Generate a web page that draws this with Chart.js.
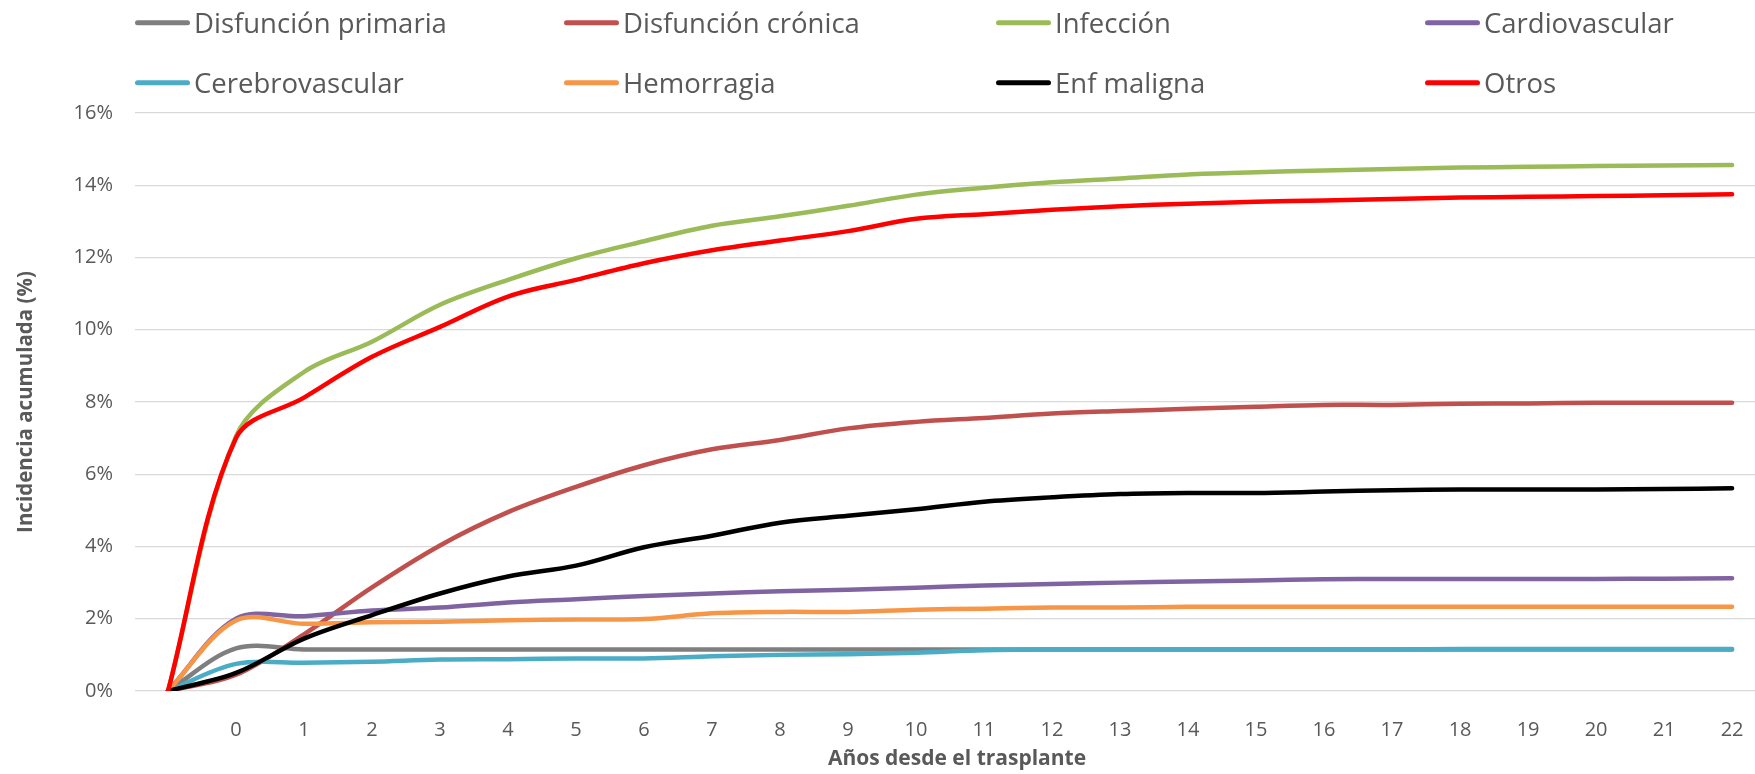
<!DOCTYPE html>
<html>
<head>
<meta charset="utf-8">
<script src="https://cdn.jsdelivr.net/npm/chart.js@4.4.1/dist/chart.umd.min.js"></script>
<style>
  html, body { margin: 0; padding: 0; background: #ffffff; overflow: hidden; }
  #wrap { width: 1755px; height: 774px; position: relative; overflow: hidden; }
  #c { position: absolute; left: 0; top: 0; }
</style>
</head>
<body>
<div id="wrap"><canvas id="c" width="1779" height="774"></canvas></div>
<script>
// ---- Data (index 0 = origin point without label, then years 0..22) ----
const xLabels = ['', '0', '1', '2', '3', '4', '5', '6', '7', '8', '9', '10', '11',
  '12', '13', '14', '15', '16', '17', '18', '19', '20', '21', '22'];

const seriesNames = ['Disfunción primaria', 'Disfunción crónica', 'Infección', 'Cardiovascular',
  'Cerebrovascular', 'Hemorragia', 'Enf maligna', 'Otros'];

const disfuncionPrimaria = [0, 1.18, 1.15, 1.15, 1.15, 1.15, 1.15, 1.15, 1.15, 1.15, 1.15, 1.15,
  1.15, 1.15, 1.15, 1.15, 1.15, 1.15, 1.15, 1.15, 1.15, 1.15, 1.15, 1.15];
const disfuncionCronica = [0, 0.45, 1.57, 2.87, 4.03, 4.95, 5.65, 6.25, 6.69, 6.95, 7.27, 7.45,
  7.56, 7.68, 7.75, 7.81, 7.87, 7.92, 7.92, 7.95, 7.96, 7.98, 7.98, 7.98];
const infeccion = [0, 7.05, 8.83, 9.67, 10.69, 11.38, 11.98, 12.45, 12.88, 13.14, 13.43, 13.74,
  13.93, 14.08, 14.19, 14.30, 14.36, 14.41, 14.45, 14.49, 14.51, 14.53, 14.55, 14.56];
const cardiovascular = [0, 2.00, 2.07, 2.23, 2.31, 2.45, 2.54, 2.63, 2.70, 2.76, 2.80, 2.86,
  2.92, 2.96, 3.00, 3.03, 3.06, 3.09, 3.10, 3.10, 3.10, 3.10, 3.11, 3.12];
const cerebrovascular = [0, 0.75, 0.78, 0.81, 0.87, 0.88, 0.90, 0.90, 0.96, 1.00, 1.02, 1.06,
  1.13, 1.15, 1.15, 1.15, 1.15, 1.15, 1.15, 1.16, 1.16, 1.16, 1.16, 1.16];
const hemorragia = [0, 1.95, 1.86, 1.90, 1.92, 1.96, 1.98, 1.99, 2.15, 2.19, 2.19, 2.25,
  2.28, 2.31, 2.31, 2.33, 2.33, 2.33, 2.33, 2.33, 2.33, 2.33, 2.33, 2.33];
const enfMaligna = [0, 0.50, 1.45, 2.10, 2.70, 3.17, 3.47, 3.98, 4.30, 4.66, 4.85, 5.03,
  5.24, 5.36, 5.45, 5.48, 5.48, 5.52, 5.56, 5.58, 5.58, 5.58, 5.59, 5.61];
const otros = [0, 7.00, 8.12, 9.25, 10.08, 10.92, 11.38, 11.84, 12.20, 12.47, 12.73, 13.07,
  13.20, 13.32, 13.42, 13.49, 13.54, 13.58, 13.62, 13.66, 13.68, 13.70, 13.72, 13.75];

const seriesValues = [disfuncionPrimaria, disfuncionCronica, infeccion, cardiovascular,
  cerebrovascular, hemorragia, enfMaligna, otros];
const seriesColors = ['#7F7F7F', '#C0504D', '#9BBB59', '#8064A2', '#4BACC6', '#F79646', '#000000', '#FF0000'];

const yMin = 0, yMax = 16, yStep = 2;

// ---- Styling / layout ----
const TEXT_COLOR = '#595959';
const FONT = '"Open Sans", "DejaVu Sans", sans-serif';

const datasets = seriesValues.map((vals, i) => ({
  label: seriesNames[i],
  data: vals.map((v, k) => ({ x: k, y: v })),
  borderColor: seriesColors[i],
  backgroundColor: seriesColors[i],
  borderWidth: 4.5,
  borderCapStyle: 'round',
  borderJoinStyle: 'round',
  pointRadius: 0,
  pointHoverRadius: 0,
  tension: 0.34,
  fill: false,
  order: seriesValues.length - 1 - i   // later series drawn on top, as in the original
}));

const LEG_COL_X = [135, 564, 996, 1425];
const LEG_ROW_Y = [22.7, 82.7];
const gridLegend = {
  id: 'gridLegend',
  afterDraw(chart) {
    const ctx = chart.ctx;
    ctx.save();
    chart.data.datasets.forEach((ds, i) => {
      const x = LEG_COL_X[i % 4];
      const y = LEG_ROW_Y[Math.floor(i / 4)];
      ctx.strokeStyle = ds.borderColor;
      ctx.lineWidth = 5;
      ctx.lineCap = 'round';
      ctx.beginPath();
      ctx.moveTo(x + 2.5, y);
      ctx.lineTo(x + 52.5, y);
      ctx.stroke();
      ctx.fillStyle = TEXT_COLOR;
      ctx.font = '27.5px ' + FONT;
      ctx.textAlign = 'left';
      ctx.textBaseline = 'alphabetic';
      ctx.fillText(ds.label, x + 59, y + 10);
    });
    ctx.restore();
  }
};

new Chart(document.getElementById('c'), {
  type: 'line',
  data: { datasets },
  plugins: [gridLegend],
  options: {
    responsive: false,
    animation: false,
    events: [],
    layout: { padding: { top: 113, left: 0, right: 0, bottom: 0 } },
    plugins: {
      legend: { display: false },
      tooltip: { enabled: false },
      title: { display: false }
    },
    scales: {
      x: {
        type: 'linear',
        bounds: 'data',
        min: -0.485,
        max: 23.69,
        grid: { display: false },
        border: { display: false },
        afterBuildTicks: (s) => { s.ticks = xLabels.map((_, i) => ({ value: i })); },
        ticks: {
          autoSkip: false,
          maxRotation: 0,
          padding: 19,
          color: TEXT_COLOR,
          font: { family: FONT, size: 20 },
          callback: (v) => (xLabels[v] !== undefined ? xLabels[v] : '')
        },
        title: {
          display: true,
          text: 'Años desde el trasplante',
          color: TEXT_COLOR,
          font: { family: FONT, size: 21, weight: 'bold' },
          padding: { top: 0, bottom: 2 }
        },
        afterFit: (s) => { s.height = 83; }
      },
      y: {
        min: yMin,
        max: yMax,
        grid: { color: '#D9D9D9', lineWidth: 1.3, drawTicks: false },
        border: { display: false },
        ticks: {
          stepSize: yStep,
          padding: 22,
          color: TEXT_COLOR,
          font: { family: FONT, size: 20 },
          callback: (v) => v + '%'
        },
        title: {
          display: true,
          text: 'Incidencia acumulada (%)',
          color: TEXT_COLOR,
          font: { family: FONT, size: 20.5, weight: 'bold' },
          padding: { top: 14, bottom: 0 }
        },
        afterFit: (s) => { s.width = 135; }
      }
    }
  }
});
</script>
</body>
</html>
